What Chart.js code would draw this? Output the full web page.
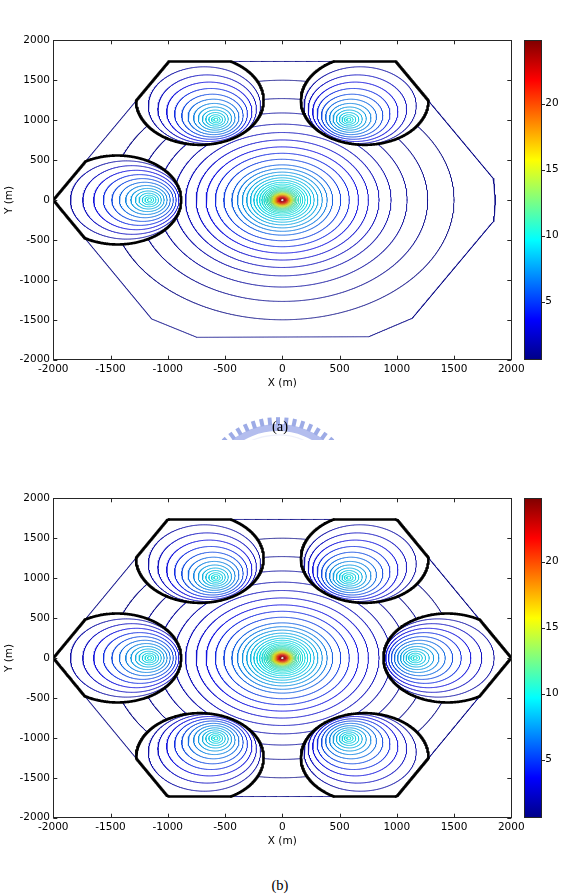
<!DOCTYPE html>
<html>
<head>
<meta charset="utf-8">
<script src="https://cdn.jsdelivr.net/npm/chart.js@4.4.1/dist/chart.umd.min.js"></script>
<style>
html, body { margin: 0; padding: 0; background: #fff; }
body { width: 564px; height: 895px; position: relative; overflow: hidden; }
canvas.plot { position: absolute; left: 0; }
#chartA { top: 0; }
#chartB { top: 458px; }
#logo { position: absolute; left: 208px; top: 410px; }
.cap { position: absolute; left: 0; width: 560px; text-align: center; line-height: 16px;
       font-family: 'Liberation Serif', 'Times New Roman', serif; font-size: 14.5px; color: #000; }
</style>
</head>
<body>
<canvas id="chartA" class="plot" width="564" height="400"></canvas>
<canvas id="logo" width="140" height="34"></canvas>
<div class="cap" style="top:418px">(a)</div>
<canvas id="chartB" class="plot" width="564" height="400"></canvas>
<div class="cap" style="top:877px">(b)</div>
<script>
// axis ticks
const xTicks = [-2000, -1500, -1000, -500, 0, 500, 1000, 1500, 2000];
const yTicks = [-2000, -1500, -1000, -500, 0, 500, 1000, 1500, 2000];
const cbTicks = [5, 10, 15, 20];
const cbMin = 0.6, cbMax = 24.8;

// serving cell contours: radius (m) and level
const mainRadii = [1500, 1270, 1090, 950, 845, 752, 665, 585, 510, 440,
                   392, 349, 311, 278, 248, 222, 199, 178, 160, 144,
                   130, 118, 107, 97, 88, 80, 72, 65, 58, 52,
                   46, 40, 34, 28, 22, 17];
const mainLevels = [0.9, 1.2, 1.6, 2.0, 2.5, 3.0, 3.6, 4.3, 5.0, 6.0,
                    6.8, 7.5, 8.1, 8.6, 9.0, 9.4, 9.7, 10.0, 10.3, 10.6,
                    11.0, 11.5, 12.3, 13.3, 14.4, 15.5, 16.5, 17.5, 18.5, 19.5,
                    20.5, 21.5, 22.5, 23.2, 23.8, 24.4];

// neighbour cell contours: radius, outward offset of centre (m), level
const satRadii = [18, 38, 60, 85, 113, 145, 181, 222, 268, 318, 372, 430, 490];
const satShift = [0, 1, 3, 6, 10, 17, 27, 41, 60, 85, 115, 152, 200];
const satLevels = [10.0, 9.7, 9.3, 8.9, 8.4, 7.8, 7.1, 6.3, 5.4, 4.5, 3.5, 2.6, 1.8];
const edgeRadius = 557, edgeShift = 280;   // thick black boundary

const cellsA = [[-580, 1005], [580, 1005], [-1160, 0]];
const cellsB = [[-580, 1005], [580, 1005], [-1160, 0], [1160, 0], [-580, -1005], [580, -1005]];

// outer border of the computed area
const outlineA = [[-2000, 0], [-990, 1735], [990, 1735], [1845, 265], [1862, 0], [1845, -265],
                  [1135, -1481], [755, -1712], [-745, -1720], [-1140, -1490]];
const outlineB = [[-2000, 0], [-1000, 1735], [1000, 1735], [2000, 0], [1000, -1735], [-1000, -1735]];
const outlineLevel = 1.0;

function jet(level) {
    const t = (level - cbMin) / (cbMax - cbMin);
    const f = v => Math.max(0, Math.min(1, 1.5 - Math.abs(4 * t - v)));
    // thin printed lines look slightly greyed
    const mix = (v, g) => Math.round(255 * v * 0.78 + g * 0.22);
    return `rgb(${mix(f(3), 85)}, ${mix(f(2), 85)}, ${mix(f(1), 120)})`;
}

function inPoly(px, py, poly) {
    let inside = false;
    for (let i = 0, j = poly.length - 1; i < poly.length; j = i++) {
        const [xi, yi] = poly[i], [xj, yj] = poly[j];
        if ((yi > py) !== (yj > py) && px < (xj - xi) * (py - yi) / (yj - yi) + xi) inside = !inside;
    }
    return inside;
}
const inDisk = (x, y, d) => (x - d.cx) ** 2 + (y - d.cy) ** 2 < d.r * d.r;

function circle(cx, cy, r, keep, step) {
    const n = Math.max(64, Math.round(2 * Math.PI * r / step));
    const pts = [];
    for (let i = 0; i <= n; i++) {
        const a = 2 * Math.PI * i / n;
        const x = cx + r * Math.cos(a), y = cy + r * Math.sin(a);
        pts.push(keep(x, y) ? {x, y} : {x: NaN, y: NaN});
    }
    return pts;
}

function polyline(poly, keep) {
    const pts = [];
    for (let i = 0; i < poly.length; i++) {
        const [x0, y0] = poly[i], [x1, y1] = poly[(i + 1) % poly.length];
        const n = Math.max(2, Math.round(Math.hypot(x1 - x0, y1 - y0) / 3));
        for (let k = 0; k < n; k++) {
            const x = x0 + (x1 - x0) * k / n, y = y0 + (y1 - y0) * k / n;
            pts.push(keep(x, y) ? {x, y} : {x: NaN, y: NaN});
        }
    }
    pts.push(pts[0]);
    return pts;
}

const line = (data, color, width) => ({
    data, borderColor: color, borderWidth: width, showLine: true,
    borderCapStyle: 'round', borderJoinStyle: 'round',
    pointRadius: 0, fill: false, spanGaps: false, tension: 0
});

const tickFont = {family: "'DejaVu Sans', 'Liberation Sans', Arial, sans-serif", size: 10.5};

const framePlugin = {
    id: 'frame',
    afterDraw(chart) {
        const {ctx, chartArea: a, scales: {x, y, cb}} = chart;
        ctx.save();
        ctx.lineWidth = 1;
        ctx.strokeStyle = '#262626';
        ctx.beginPath();
        xTicks.forEach(v => {
            const p = Math.round(x.getPixelForValue(v)) + 0.5;
            ctx.moveTo(p, a.bottom); ctx.lineTo(p, a.bottom - 4);
            ctx.moveTo(p, a.top); ctx.lineTo(p, a.top + 4);
        });
        yTicks.forEach(v => {
            const p = Math.round(y.getPixelForValue(v)) + 0.5;
            ctx.moveTo(a.left, p); ctx.lineTo(a.left + 4, p);
            ctx.moveTo(a.right, p); ctx.lineTo(a.right - 4, p);
        });
        ctx.stroke();
        ctx.strokeRect(Math.round(a.left) + 0.5, Math.round(a.top) + 0.5, Math.round(a.width), Math.round(a.height));

        // colour bar
        const bx = Math.round(a.right + 12.4) + 0.5, bw = 17;
        const top = cb.getPixelForValue(cbMax), bot = cb.getPixelForValue(cbMin);
        const g = ctx.createLinearGradient(0, bot, 0, top);
        g.addColorStop(0, 'rgb(0,0,135)');
        g.addColorStop(0.125, 'rgb(0,0,255)');
        g.addColorStop(0.375, 'rgb(0,255,255)');
        g.addColorStop(0.625, 'rgb(255,255,0)');
        g.addColorStop(0.875, 'rgb(255,0,0)');
        g.addColorStop(1, 'rgb(128,0,0)');
        ctx.fillStyle = g;
        ctx.fillRect(bx, top, bw, bot - top);
        ctx.strokeRect(bx, Math.round(top) + 0.5, bw, Math.round(bot - top));
        ctx.beginPath();
        cbTicks.forEach(v => {
            const p = Math.round(cb.getPixelForValue(v)) + 0.5;
            ctx.moveTo(bx + bw, p); ctx.lineTo(bx + bw + 3.5, p);
        });
        ctx.stroke();
        ctx.restore();
    }
};

function contourChart(canvasId, cells, outline) {
    const disks = cells.map(([cx, cy]) => {
        const d = Math.hypot(cx, cy);
        return {cx: cx + cx / d * edgeShift, cy: cy + cy / d * edgeShift, r: edgeRadius};
    });
    const outsideSats = (x, y) => !disks.some(d => inDisk(x, y, d));
    const datasets = [];

    // thick black boundaries of the neighbour cells
    disks.forEach(d => {
        datasets.push(line(circle(d.cx, d.cy, d.r, (x, y) => inPoly(x, y, outline), 3), '#000', 2.6));
        datasets.push(line(polyline(outline, (x, y) => inDisk(x, y, d)), '#000', 2.6));
    });
    // thin outline of the area
    datasets.push(line(polyline(outline, outsideSats), jet(outlineLevel), 1));

    // neighbour cell contours
    cells.forEach(([cx, cy], i) => {
        const d = Math.hypot(cx, cy);
        satRadii.forEach((r, k) => {
            const ox = cx + cx / d * satShift[k], oy = cy + cy / d * satShift[k];
            const keep = (x, y) => inPoly(x, y, outline) && inDisk(x, y, disks[i]);
            datasets.push(line(circle(ox, oy, r, keep, 4), jet(satLevels[k]), 1));
        });
    });

    // serving cell contours
    mainRadii.forEach((r, k) => {
        const keep = (x, y) => inPoly(x, y, outline) && outsideSats(x, y);
        datasets.push(line(circle(0, 0, r, keep, 4), jet(mainLevels[k]), 1));
    });

    return new Chart(document.getElementById(canvasId), {
        type: 'scatter',
        data: {datasets},
        plugins: [framePlugin],
        options: {
            responsive: false,
            animation: false,
            events: [],
            layout: {padding: {left: 0, top: 13.3, right: 0, bottom: 0}},
            plugins: {legend: {display: false}, tooltip: {enabled: false}},
            scales: {
                x: {
                    type: 'linear', min: -2000, max: 2000,
                    afterBuildTicks: s => { s.ticks = xTicks.map(v => ({value: v})); },
                    afterFit: s => { s.height = 40; },
                    grid: {display: false, drawTicks: false},
                    border: {display: false},
                    ticks: {padding: 3.5, color: '#000', font: tickFont, maxRotation: 0, autoSkip: false,
                            callback: v => String(v)},
                    title: {display: true, text: 'X (m)', color: '#000', font: tickFont,
                            padding: {top: 0, bottom: 10}}
                },
                y: {
                    type: 'linear', min: -2000, max: 2000,
                    afterBuildTicks: s => { s.ticks = yTicks.map(v => ({value: v})); },
                    afterFit: s => { s.width = 53.3; },
                    grid: {display: false, drawTicks: false},
                    border: {display: false},
                    ticks: {padding: 3.3, color: '#000', font: tickFont, autoSkip: false,
                            callback: v => String(v)},
                    title: {display: true, text: 'Y (m)', color: '#000', font: tickFont,
                            padding: {top: 3, bottom: 0}}
                },
                cb: {
                    type: 'linear', axis: 'y', position: 'right', min: cbMin, max: cbMax,
                    afterBuildTicks: s => { s.ticks = cbTicks.map(v => ({value: v})); },
                    afterFit: s => { s.width = 52.7; },
                    grid: {display: false, drawTicks: false},
                    border: {display: false},
                    ticks: {padding: 34, color: '#000', font: tickFont, callback: v => String(v)}
                }
            }
        }
    });
}

contourChart('chartA', cellsA, outlineA);
contourChart('chartB', cellsB, outlineB);

// faint watermark between the panels
(function () {
    const c = document.getElementById('logo').getContext('2d');
    const cx = 70, cy = 89;
    c.save();
    c.beginPath(); c.rect(0, 0, 140, 30); c.clip();
    c.fillStyle = '#b3bdee';
    c.beginPath();
    c.arc(cx, cy, 75, Math.PI, 2 * Math.PI);
    c.arc(cx, cy, 68, 2 * Math.PI, Math.PI, true);
    c.fill();
    c.fillStyle = '#9dabe6';
    for (let a = 204; a <= 338; a += 6) {
        const r = a * Math.PI / 180;
        c.save();
        c.translate(cx + 78 * Math.cos(r), cy + 78 * Math.sin(r));
        c.rotate(r + Math.PI / 2);
        c.fillRect(-2, -3.8, 4, 7.6);
        c.restore();
    }
    c.strokeStyle = '#eef0fb';
    c.lineWidth = 1.2;
    c.beginPath(); c.arc(cx, cy, 64, Math.PI * 1.22, Math.PI * 1.78); c.stroke();
    c.restore();
})();
</script>
</body>
</html>
